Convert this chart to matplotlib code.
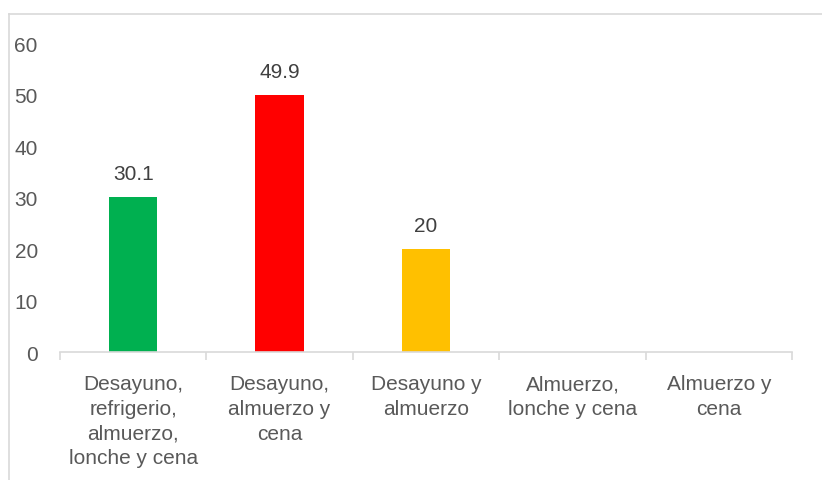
import matplotlib.pyplot as plt
from matplotlib.lines import Line2D

categories = ["Desayuno,\nrefrigerio,\nalmuerzo,\nlonche y cena",
              "Desayuno,\nalmuerzo y\ncena",
              "Desayuno y\nalmuerzo",
              "Almuerzo,\nlonche y cena",
              "Almuerzo y\ncena"]
values = [30.1, 49.9, 20, 0, 0]
labels = ["30.1", "49.9", "20", "", ""]
colors = ["#00b050", "#ff0000", "#ffc000", "#a5a5a5", "#4472c4"]

plt.rcParams["font.family"] = ["Liberation Sans", "DejaVu Sans"]
text_col = "#595959"

fig = plt.figure(figsize=(8.22, 4.81), dpi=100)
ax = fig.add_axes([0.073, 0.2661, 0.8905, 0.6416])

x = list(range(len(categories)))
ax.bar(x, values, width=0.33, color=colors)
for xi, v, lab in zip(x, values, labels):
    if lab:
        ax.annotate(lab, (xi, v), xytext=(0, 10), textcoords="offset points",
                    ha="center", va="bottom", fontsize=15, color="#404040")

ax.set_xlim(-0.5, len(categories) - 0.5)
ax.set_ylim(0, 60)
ax.set_yticks(range(0, 61, 10))
ax.tick_params(axis="y", length=0, pad=16, labelsize=15, labelcolor=text_col)

ax.set_xticks(x)
ax.set_xticklabels(categories, fontsize=15, color=text_col, linespacing=1.38)
ax.tick_params(axis="x", length=0, pad=16)
ax.set_xticks([i - 0.5 for i in range(len(categories) + 1)], minor=True)
ax.tick_params(axis="x", which="minor", length=6, color="#d9d9d9", width=1.2)

for s in ["top", "right", "left"]:
    ax.spines[s].set_visible(False)
ax.spines["bottom"].set_color("#d9d9d9")
ax.spines["bottom"].set_linewidth(1.2)

# outer chart frame (cropped)
fig.add_artist(Line2D([9 / 822, 9 / 822], [0, 1 - 15 / 481], color="#d9d9d9", lw=1.2,
                      transform=fig.transFigure))
fig.add_artist(Line2D([9 / 822, 1], [1 - 15 / 481, 1 - 15 / 481], color="#d9d9d9", lw=1.2,
                      transform=fig.transFigure))

fig.savefig("out.png", dpi=100)
